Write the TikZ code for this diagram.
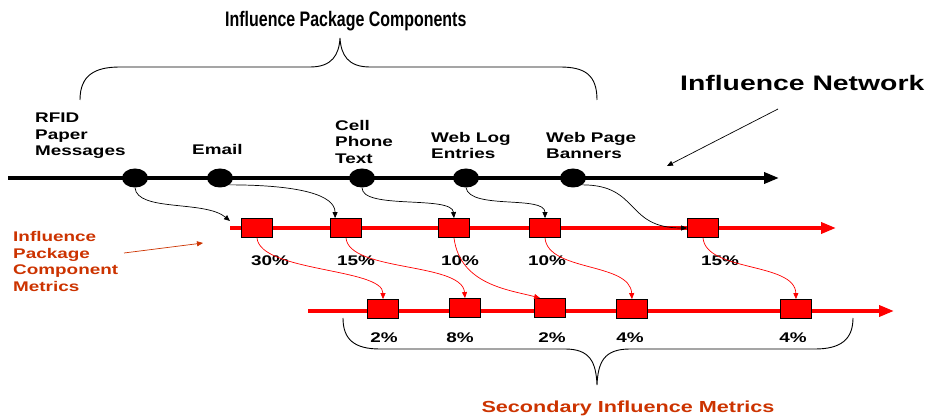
\documentclass[tikz,border=0pt]{standalone}
\usepackage{fontspec}
\newfontfamily\labfont{Liberation Sans}[FakeStretch=1.35]
\newfontfamily\headfont{Liberation Sans}[FakeStretch=0.76]
\usetikzlibrary{arrows.meta,shapes.geometric}
\definecolor{metricred}{RGB}{204,51,0}

\begin{document}
\begin{tikzpicture}[x=1pt,y=-1pt,
  srcdot/.style={ellipse,fill=black,minimum width=26pt,minimum height=19pt,inner sep=0pt},
  metricbox/.style={rectangle,draw=black,fill=red,line width=0.8pt,minimum width=31pt,minimum height=19pt,inner sep=0pt},
  lbl/.style={anchor=north west,inner sep=0pt,align=left,font=\labfont\bfseries\fontsize{14}{16.5}\selectfont},
  pct/.style={inner sep=0pt,font=\labfont\bfseries\fontsize{14}{16}\selectfont},
  link/.style={line width=0.7pt,-{Triangle[length=6pt,width=5pt]}},
  track/.style={line width=3.5pt,-{Triangle[length=15pt,width=11pt]}}]
  \useasboundingbox (0,0) rectangle (932,419);

  % headings
  \node[lbl,font=\headfont\bfseries\fontsize{21}{25}\selectfont] (title) at (225,11) {Influence Package Components};
  \node[lbl,font=\labfont\bfseries\fontsize{21}{25}\selectfont] (net) at (680,75) {Influence Network};
  \node[lbl,text=metricred,font=\labfont\bfseries\fontsize{14}{16.7}\selectfont] (pcm) at (13,231) {Influence\\Package\\Component\\Metrics};
  \node[pct,text=metricred,font=\labfont\bfseries\fontsize{16}{19}\selectfont] (sim) at (628,408) {Secondary Influence Metrics};

  % braces
  \draw[line width=0.9pt] (80,100) .. controls (80,75) and (95,67) .. (120,67) -- (310,67)
    .. controls (332,67) and (339,55) .. (340,38) .. controls (341,55) and (348,67) .. (370,67)
    -- (560,67) .. controls (585,67) and (597,75) .. (597,100);
  \draw[line width=0.9pt] (343,318) .. controls (343,340) and (355,349) .. (380,349) -- (565,349)
    .. controls (590,349) and (596,362) .. (597,385) .. controls (598,362) and (604,349) .. (630,349)
    -- (815,349) .. controls (840,349) and (853,340) .. (853,318);

  % tracks
  \coordinate (n0) at (8,178);
  \coordinate (n1) at (779,178);
  \coordinate (r1a) at (230,228);
  \coordinate (r1b) at (836,228);
  \coordinate (r2a) at (308,311);
  \coordinate (r2b) at (894,311);
  \draw[track] (n0) -- (n1);
  \draw[track,red] (r1a) -- (r1b);
  \draw[track,red] (r2a) -- (r2b);

  % components
  \node[srcdot] (d1) at (135,178) {};
  \node[srcdot] (d2) at (220,178) {};
  \node[srcdot] (d3) at (362,178) {};
  \node[srcdot] (d4) at (466,178) {};
  \node[srcdot] (d5) at (573,178) {};
  \node[lbl] (t1) at (35,113) {RFID\\Paper\\Messages};
  \node[lbl] (t2) at (192,144) {Email};
  \node[lbl] (t3) at (335,120) {Cell\\Phone\\Text};
  \node[lbl] (t4) at (431,132) {Web Log\\Entries};
  \node[lbl] (t5) at (546,132) {Web Page\\Banners};

  % component metrics
  \node[metricbox] (b1) at (257,228) {};
  \node[metricbox] (b2) at (346,228) {};
  \node[metricbox] (b3) at (454,228) {};
  \node[metricbox] (b4) at (545,228) {};
  \node[metricbox] (b5) at (703,228) {};
  \node[pct] (p1) at (270,261) {30\%};
  \node[pct] (p2) at (356,261) {15\%};
  \node[pct] (p3) at (460,261) {10\%};
  \node[pct] (p4) at (547,261) {10\%};
  \node[pct] (p5) at (720,261) {15\%};

  % secondary metrics
  \node[metricbox] (c1) at (383,309) {};
  \node[metricbox] (c2) at (465,308) {};
  \node[metricbox] (c3) at (550,308) {};
  \node[metricbox] (c4) at (632,309) {};
  \node[metricbox] (c5) at (796,309) {};
  \node[pct] (q1) at (384,338) {2\%};
  \node[pct] (q2) at (460,338) {8\%};
  \node[pct] (q3) at (552,338) {2\%};
  \node[pct] (q4) at (630,338) {4\%};
  \node[pct] (q5) at (793,338) {4\%};

  % components to metrics
  \draw[link] (d1.south) .. controls (137,212) and (205,200) .. ([yshift=7pt]r1a);
  \draw[link] (d2.south east) .. controls (300,185) and (335,195) .. ([xshift=5pt]b2.north west);
  \draw[link] (d3.south) .. controls (362,210) and (452,195) .. (b3.north);
  \draw[link] (d4.south) .. controls (470,210) and (545,195) .. (b4.north);
  \draw[link] (d5.south east) .. controls (640,185) and (625,228) .. (b5.west);

  % metrics to secondary metrics
  \draw[link,red] (b1.south) .. controls (260,272) and (383,268) .. (c1.north);
  \draw[link,red] (b2.south) .. controls (349,272) and (462,262) .. (c2.north);
  \draw[link,red] (b3.south) .. controls (460,285) and (510,290) .. ([xshift=6pt]c3.north west);
  \draw[link,red] (b4.south) .. controls (548,272) and (630,262) .. (c4.north);
  \draw[link,red] (b5.south) .. controls (706,272) and (795,262) .. (c5.north);

  % pointers
  \coordinate (nt) at (778,109);
  \coordinate (nh) at (667,166);
  \draw[link] (nt) -- (nh);
  \coordinate (mt) at (124,253);
  \coordinate (mh) at (203,243);
  \draw[link,metricred] (mt) -- (mh);
\end{tikzpicture}
\end{document}
